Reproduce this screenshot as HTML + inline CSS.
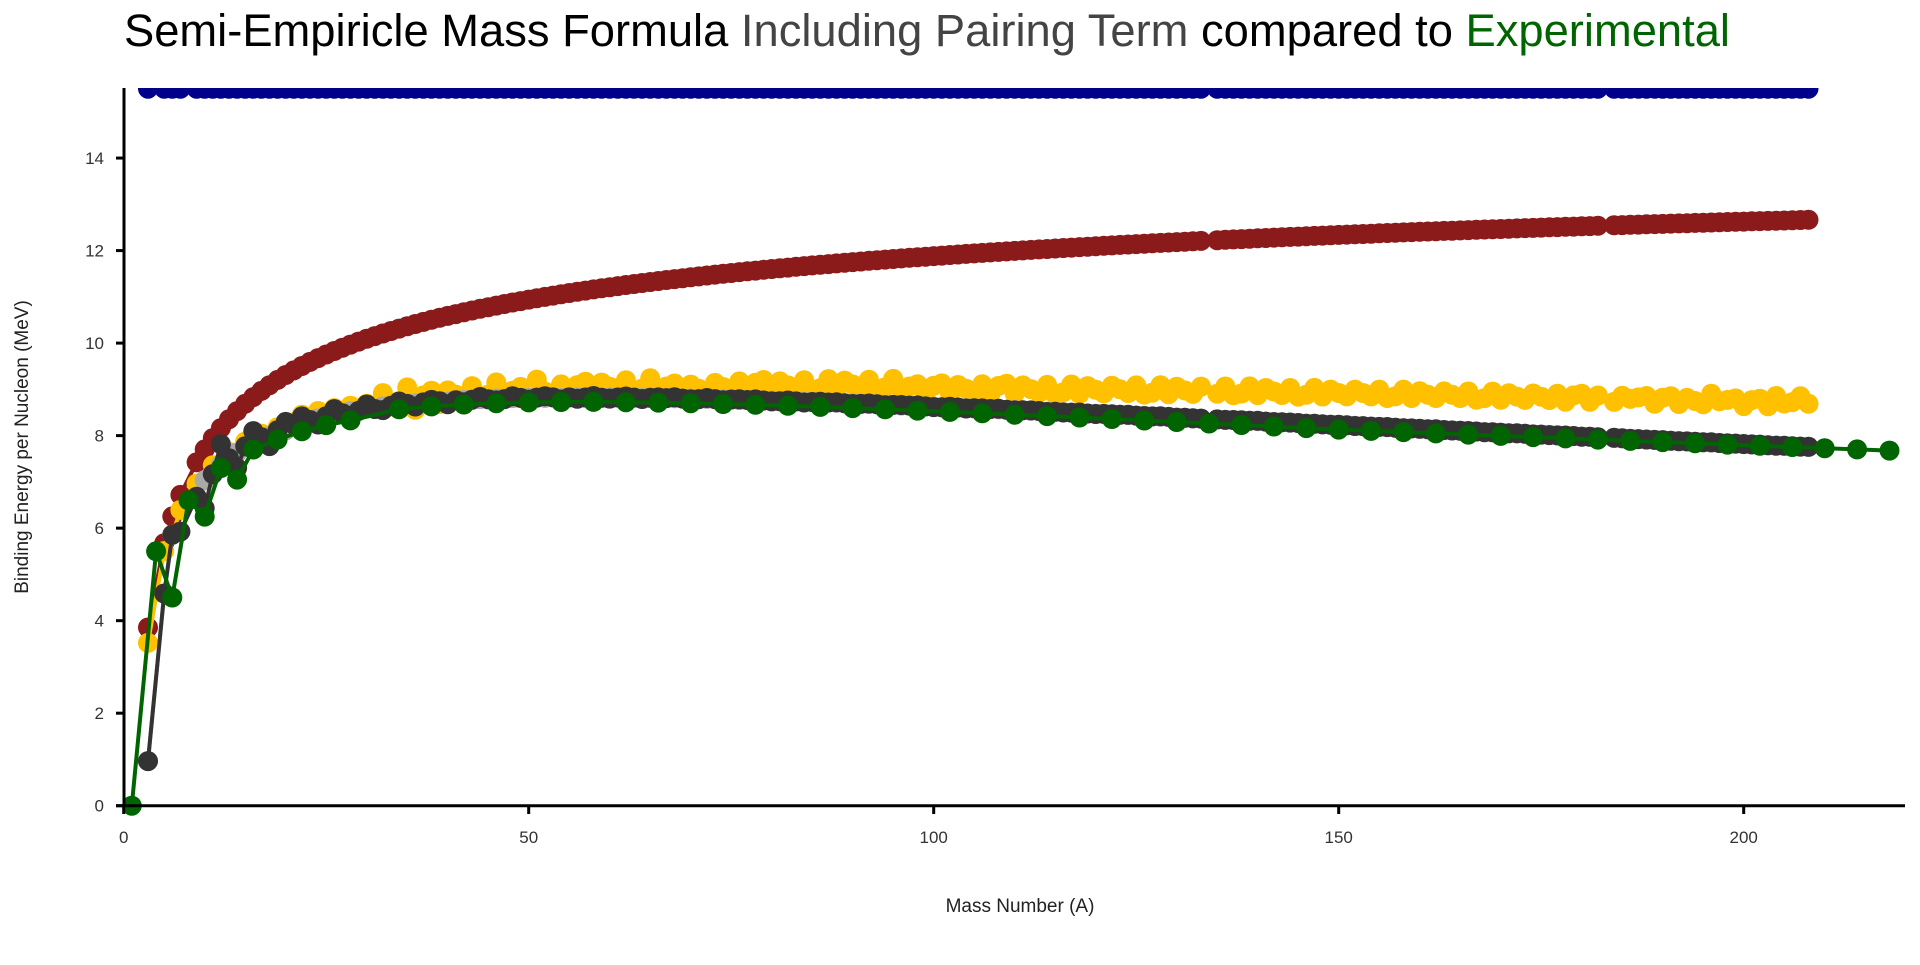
<!DOCTYPE html>
<html><head><meta charset="utf-8"><style>
body{margin:0;background:#fff;width:1920px;height:960px;overflow:hidden;font-family:"Liberation Sans",sans-serif}
</style></head><body>
<svg id="s" width="1920" height="960" xmlns="http://www.w3.org/2000/svg">
<defs><clipPath id="c"><rect x="124" y="88" width="1800" height="760"/></clipPath></defs>
<text x="124" y="46" font-size="45" textLength="1606" lengthAdjust="spacingAndGlyphs" font-family="Liberation Sans, sans-serif" fill="#000">Semi-Empiricle Mass Formula <tspan fill="#444">Including Pairing Term</tspan> compared to <tspan fill="#006400">Experimental</tspan></text>
<g id="plot" clip-path="url(#c)"></g>
<g id="axes"></g>
<text x="1020" y="912" font-size="19" text-anchor="middle" fill="#222">Mass Number (A)</text>
<text transform="translate(28,447) rotate(-90)" font-size="19" text-anchor="middle" fill="#222">Binding Energy per Nucleon (MeV)</text>
</svg>
<script>
var NS="http://www.w3.org/2000/svg";
function X(a){return 123.7+a*8.1}
function Y(v){return 805.7-v*46.26}
var P=document.getElementById('plot'),Ax=document.getElementById('axes');
function el(p,t,at){var e=document.createElementNS(NS,t);for(var k in at)e.setAttribute(k,at[k]);p.appendChild(e);return e}
function series(pts,col,r,w){
 var d=pts.map(function(p,i){return (i?'L':'M')+X(p[0]).toFixed(1)+' '+Y(p[1]).toFixed(1)}).join('');
 el(P,'path',{d:d,fill:'none',stroke:col,'stroke-width':w,'stroke-linejoin':'round'});
 pts.forEach(function(p){el(P,'circle',{cx:X(p[0]).toFixed(1),cy:Y(p[1]).toFixed(1),r:r,fill:col})});
}
var blue=[],red=[],yel=[],lg=[],dg=[],gr=[];
for(var A=3;A<=208;A++){
 if(A==4||A==8||A==134||A==183)continue;
 var Zf=A/(1.98+0.0155*Math.pow(A,2/3));
 var j=A<30?0:Math.sin(A*2.3)*0.9;
 var Z=Math.round(Zf+j);
 if(A==3)Z=2;
 var N=A-Z,a13=Math.pow(A,1/3);
 var vol=15.5*A,surf=16.8*a13*a13,coul=0.72*Z*(Z-1)/a13;
 var Z0=Math.round(Zf),N0=A-Z0;if(A==3){Z0=2;N0=1;}
 var c0=0.72*Z0*(Z0-1)/a13,as0=23*(N0-Z0)*(N0-Z0)/A;
 var pair=0;if(A%2==0&&A>=10){pair=(Z0%2==0?1:-1)*34/Math.pow(A,0.75);}
 blue.push([A,15.5]);
 red.push([A,(vol-surf)/A]);
 yel.push([A,(vol-surf-coul)/A]);
 lg.push([A,(vol-surf-c0-as0)/A]);
 dg.push([A,(vol-surf-c0-as0+pair)/A]);
}
gr=[[1,0],[4,5.5],[6,4.5],[8,6.6],[10,6.25],[12,7.3],[14,7.05],[16,7.7]];
function smooth(A){var Z=A/(1.98+0.0155*Math.pow(A,2/3)),a13=Math.pow(A,1/3);
 return (15.5*A-16.8*a13*a13-0.72*Z*(Z-1)/a13-23*(A-2*Z)*(A-2*Z)/A)/A;}
for(var A=19;A<=30;A+=3)gr.push([A,smooth(A)-0.2]);
for(var A=34;A<=221;A+=4)gr.push([A,smooth(A)-0.1+Math.max(0,A-150)*0.0015]);
series(blue,'#00008b',10,4);
series(red,'#8b1a1a',10,4);
series(yel,'#ffc000',10,4);
series(lg,'#a9a9a9',10,4);
series(dg,'#333333',10,4);
series(gr,'#006400',10,4);
el(Ax,'line',{x1:124,y1:88,x2:124,y2:807,stroke:'#000','stroke-width':3});
el(Ax,'line',{x1:116,y1:805.7,x2:1905,y2:805.7,stroke:'#000','stroke-width':3});
for(var v=0;v<=14;v+=2){var y=Y(v);el(Ax,'line',{x1:116,y1:y,x2:124,y2:y,stroke:'#000','stroke-width':3});
 var t=el(Ax,'text',{x:104,y:y+6,'font-size':17,'text-anchor':'end',fill:'#333'});t.textContent=v;}
for(var a=0;a<=200;a+=50){var x=X(a);el(Ax,'line',{x1:x,y1:805,x2:x,y2:814,stroke:'#000','stroke-width':3});
 var t=el(Ax,'text',{x:x,y:843,'font-size':17,'text-anchor':'middle',fill:'#333'});t.textContent=a;}
</script>
</body></html>
